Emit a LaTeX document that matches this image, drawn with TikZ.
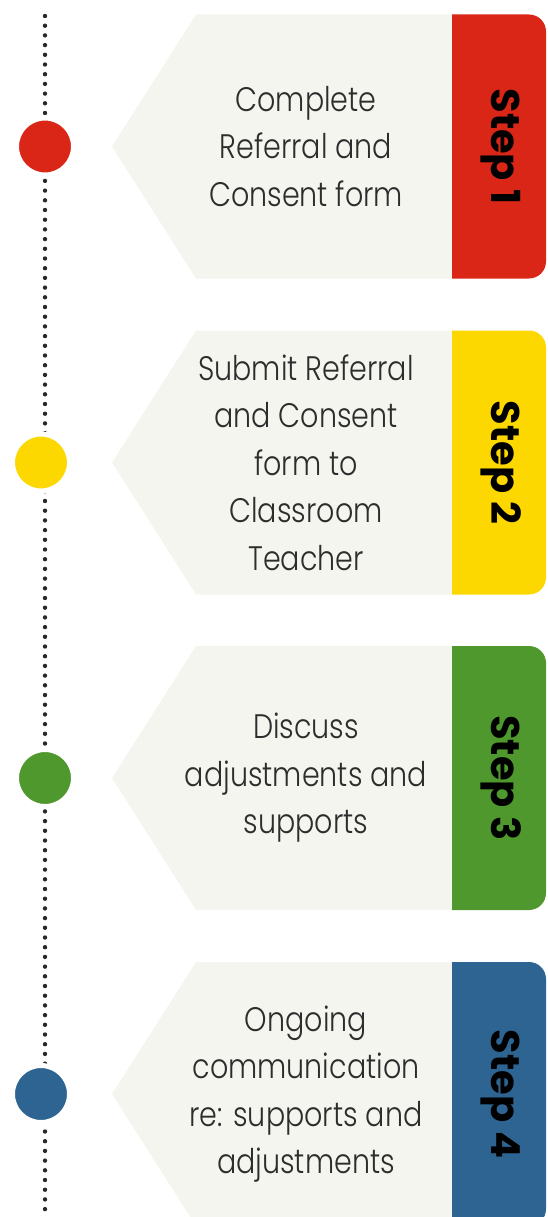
\documentclass[tikz,border=0pt]{standalone}
\usepackage{fontspec}
\IfFontExistsTF{Poppins Light}
  {\newfontfamily\bodyfont{Poppins Light}[FakeStretch=0.84]}
  {\newfontfamily\bodyfont{Poppins}[FakeStretch=0.84]}
\newfontfamily\labelfont{Poppins}[UprightFont=*-Bold]

\definecolor{stepred}{RGB}{218,38,22}
\definecolor{stepyellow}{RGB}{252,216,0}
\definecolor{stepgreen}{RGB}{78,152,46}
\definecolor{stepblue}{RGB}{45,100,146}
\definecolor{tagfill}{RGB}{244,245,238}
\definecolor{dotgray}{RGB}{40,40,40}
\definecolor{textgray}{RGB}{45,45,45}

\tikzset{
  dotline/.style={draw=dotgray, line width=4.4pt, line cap=round,
    dash pattern=on 0pt off 9.7pt},
  marker/.style={circle, fill=#1, draw=white, line width=5pt,
    minimum size=57pt, inner sep=0pt},
  bodytext/.style={align=center, text=textgray,
    font=\bodyfont\fontsize{34}{47.5}\selectfont},
  steplabel/.style={rotate=-90, text=black,
    font=\labelfont\fontsize{40}{44}\selectfont},
}

% one tag: #1 top edge, #2 colour, #3 label, #4 text, #5 marker x, #6 name
\newcommand\tagitem[6]{%
  \pgfmathsetmacro\ytop{#1}%
  \pgfmathsetmacro\ybot{#1+264}%
  \pgfmathsetmacro\ymid{#1+132}%
  \fill[tagfill] (112,\ymid) -- (196,\ytop) -- (460,\ytop)
    -- (460,\ybot) -- (196,\ybot) -- cycle;
  \fill[#2] (452,\ytop) [rounded corners=17pt] -- (546,\ytop)
    -- (546,\ybot) [sharp corners] -- (452,\ybot) -- cycle;
  \node[bodytext] (#6text) at (306,\ymid) {#4};
  \node[steplabel] (#6label) at (501,\ymid) {#3};
  \node[marker=#2] (#6dot) at (#5,\ymid) {};
}

\begin{document}
\begin{tikzpicture}[x=1pt, y=-1pt]
\useasboundingbox (0,0) rectangle (547,1217);
\coordinate (linetop) at (45,16);
\coordinate (linebottom) at (45,1217);
\draw[dotline] (linetop) -- (linebottom);

\tagitem{14.5}{stepred}{Step 1}{Complete\\Referral and\\Consent form}{45}{s1}
\tagitem{330.5}{stepyellow}{Step 2}{Submit Referral\\and Consent\\form to\\Classroom\\Teacher}{41}{s2}
\tagitem{646}{stepgreen}{Step 3}{Discuss\\adjustments and\\supports}{45}{s3}
\tagitem{962}{stepblue}{Step 4}{Ongoing\\communication\\re: supports and\\adjustments}{41}{s4}
\end{tikzpicture}
\end{document}
